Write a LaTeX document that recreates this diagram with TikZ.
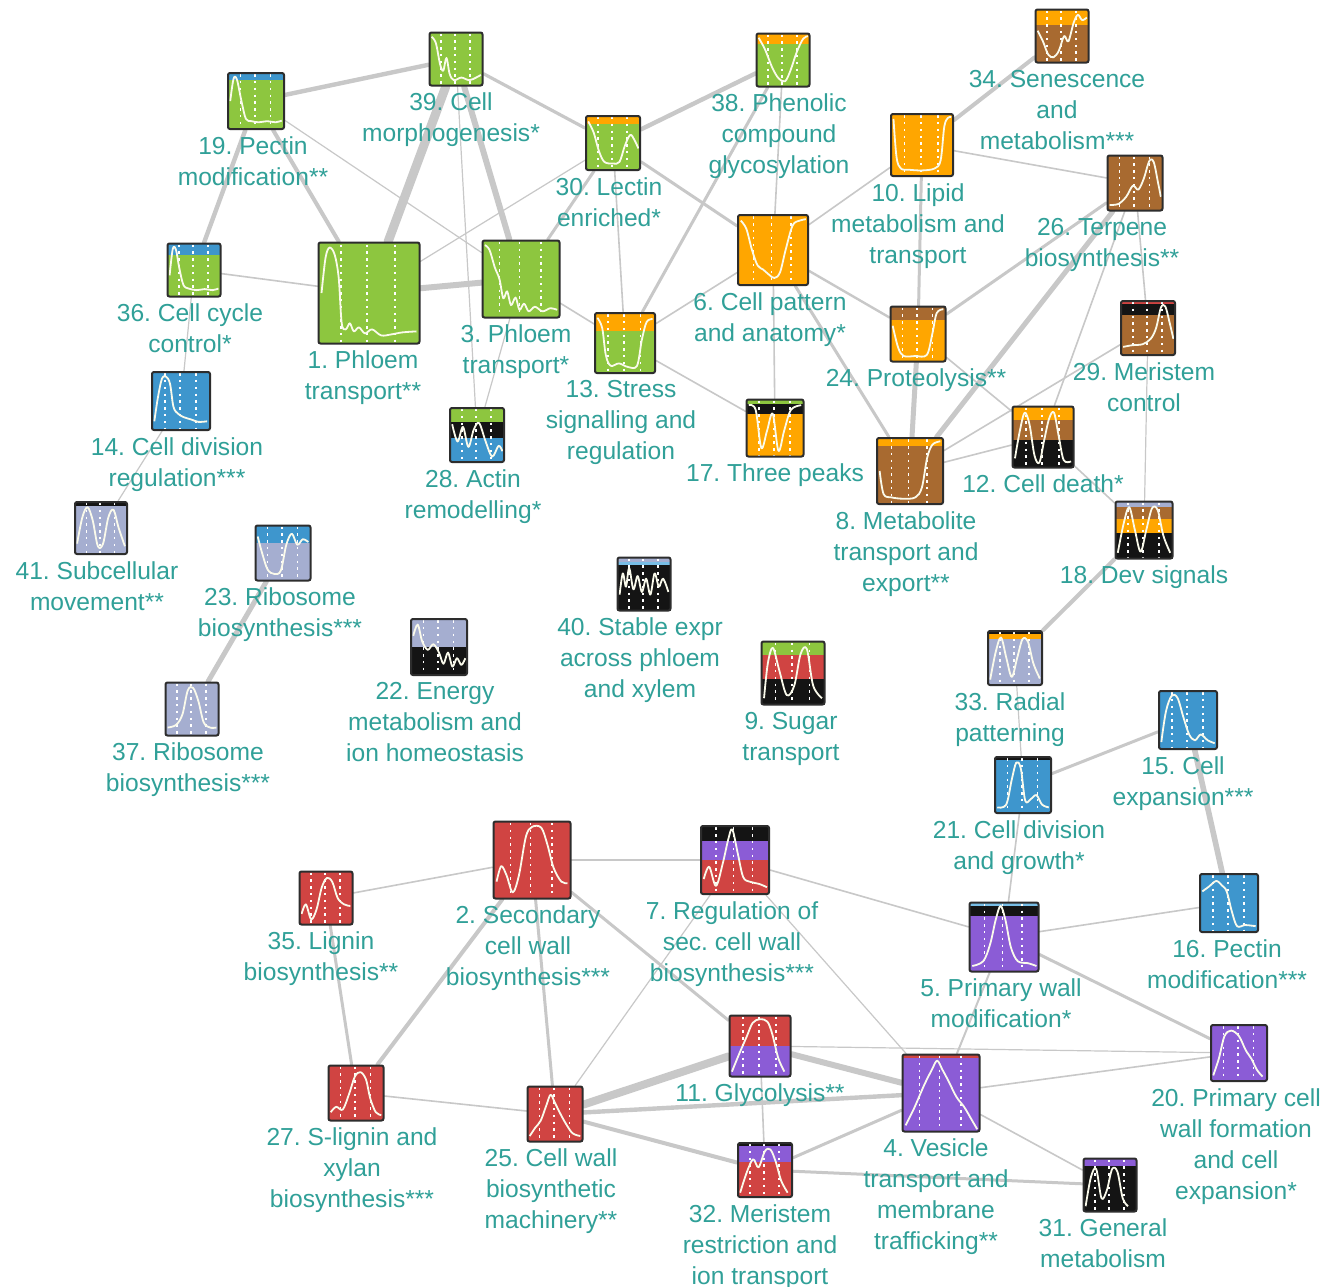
\documentclass[tikz,border=0pt]{standalone}
\usepackage{fontspec}
\setmainfont{Liberation Sans}
\frenchspacing
\pgfdeclarelayer{bg}
\pgfsetlayers{bg,main}
\definecolor{cgreen}{RGB}{141,198,63}
\definecolor{corange}{RGB}{255,166,0}
\definecolor{cbrown}{RGB}{168,106,48}
\definecolor{cblue}{RGB}{62,150,205}
\definecolor{cred}{RGB}{208,68,66}
\definecolor{cpurple}{RGB}{139,92,214}
\definecolor{cslate}{RGB}{165,174,208}
\definecolor{clblue}{RGB}{120,190,230}
\definecolor{cblack}{RGB}{20,20,20}
\definecolor{cframe}{RGB}{45,45,45}
\definecolor{labcol}{RGB}{48,160,152}
\definecolor{edgecol}{RGB}{200,200,200}
\definecolor{curvecol}{RGB}{250,250,235}
\tikzset{
  mbox/.style={draw=cframe, line width=1pt, rounded corners=1pt, inner sep=0pt},
  lab/.style={text=labcol, font=\fontsize{12.3}{15.5}\selectfont\frenchspacing, align=center, anchor=north, inner sep=0pt},
  lnk/.style={draw=edgecol, line cap=round},
  curveline/.style={draw=curvecol, line width=0.9pt, line join=round},
  dotline/.style={draw=white, line width=0.8pt, dash pattern=on 1.2pt off 2.2pt},
}
\newcommand\modbox[8]{%
  \begin{scope}[shift={(#2-#4/2,#3-#4/2)},scale=#4]
    \clip (0,0) rectangle (1,1);
    \foreach \ya/\yb/\cc in {#5} {\fill[fill=\cc] (0,\ya) rectangle (1,\yb);}
    \foreach \dx in {0.22,0.48,0.76} {\draw[dotline] (\dx,0.02) -- (\dx,1);}
    \draw[curveline] plot[smooth,tension=0.55] coordinates {#6};
  \end{scope}
  \node[mbox,minimum size=#4*0.5pt] (#1) at (#2,#3) {};
  \node[lab] at ([xshift=#7*0.5pt,yshift=-3pt]#1.south) {#8};
}
\begin{document}
\begin{tikzpicture}[x=0.5pt,y=-0.5pt]
\useasboundingbox (0,0) rectangle (1334,1286);
\begin{pgfonlayer}{bg}
\fill[white] (0,0) rectangle (1334,1286);
\end{pgfonlayer}

\modbox{n1}{369}{293}{101}{0/1/cgreen}{(0.03,0.5)(0.07,0.15)(0.11,0.05)(0.16,0.12)(0.2,0.35)(0.23,0.8)(0.27,0.86)(0.31,0.8)(0.35,0.88)(0.4,0.84)(0.46,0.9)(0.53,0.86)(0.62,0.92)(0.72,0.91)(0.83,0.89)(0.97,0.88)}{-6}{1. Phloem\\transport**}
\modbox{n2}{532}{860}{77}{0/1/cred}{(0.04,0.78)(0.1,0.58)(0.17,0.7)(0.25,0.92)(0.33,0.7)(0.42,0.2)(0.5,0.07)(0.62,0.08)(0.7,0.3)(0.78,0.6)(0.88,0.78)(0.96,0.8)}{-4}{2. Secondary\\cell wall\\biosynthesis***}
\modbox{n3}{521}{279}{77}{0/1/cgreen}{(0.03,0.06)(0.09,0.12)(0.16,0.35)(0.22,0.5)(0.27,0.75)(0.32,0.66)(0.37,0.84)(0.43,0.74)(0.48,0.9)(0.54,0.82)(0.6,0.92)(0.68,0.86)(0.78,0.92)(0.88,0.88)(0.97,0.9)}{-5}{3. Phloem\\transport*}
\modbox{n4}{941}{1093}{77}{0/0.04/cred,0.04/1/cpurple}{(0.04,0.92)(0.15,0.7)(0.28,0.4)(0.38,0.2)(0.45,0.08)(0.52,0.2)(0.6,0.35)(0.7,0.55)(0.8,0.68)(0.9,0.85)(0.97,0.97)}{-5}{4. Vesicle\\transport and\\membrane\\trafficking**}
\modbox{n5}{1004}{937}{69}{0/0.05/clblue,0.05/0.2/cblack,0.2/1/cpurple}{(0.04,0.92)(0.2,0.85)(0.3,0.6)(0.38,0.25)(0.45,0.05)(0.52,0.25)(0.6,0.65)(0.7,0.85)(0.85,0.88)(0.97,0.92)}{-3}{5. Primary wall\\modification*}
\modbox{n6}{773}{250}{70}{0/1/corange}{(0.04,0.08)(0.12,0.2)(0.2,0.5)(0.28,0.72)(0.36,0.78)(0.44,0.85)(0.52,0.9)(0.6,0.82)(0.68,0.5)(0.78,0.15)(0.88,0.08)(0.97,0.06)}{-3}{6. Cell pattern\\and anatomy*}
\modbox{n7}{735}{860}{68}{0/0.22/cblack,0.22/0.5/cpurple,0.5/1/cred}{(0.04,0.78)(0.12,0.6)(0.22,0.88)(0.32,0.55)(0.4,0.2)(0.46,0.05)(0.54,0.4)(0.62,0.75)(0.72,0.82)(0.85,0.85)(0.97,0.9)}{-3}{7. Regulation of\\sec. cell wall\\biosynthesis***}
\modbox{n8}{910}{471}{66}{0/0.12/corange,0.12/1/cbrown}{(0.04,0.5)(0.1,0.85)(0.22,0.9)(0.4,0.92)(0.58,0.9)(0.68,0.75)(0.76,0.3)(0.84,0.1)(0.96,0.05)}{-4}{8. Metabolite\\transport and\\export**}
\modbox{n9}{793}{673}{63}{0/0.22/cgreen,0.22/0.6/cred,0.6/1/cblack}{(0.04,0.9)(0.1,0.35)(0.18,0.1)(0.28,0.45)(0.4,0.85)(0.52,0.7)(0.62,0.2)(0.72,0.12)(0.82,0.7)(0.96,0.9)}{-2}{9. Sugar\\transport}
\modbox{n10}{922}{145}{62}{0/1/corange}{(0.04,0.08)(0.09,0.7)(0.16,0.88)(0.3,0.9)(0.5,0.91)(0.7,0.88)(0.8,0.75)(0.86,0.2)(0.92,0.06)(0.97,0.05)}{-4}{10. Lipid\\metabolism and\\transport}
\modbox{n11}{760}{1046}{61}{0/0.5/cred,0.5/1/cpurple}{(0.04,0.92)(0.15,0.65)(0.28,0.35)(0.38,0.12)(0.5,0.06)(0.62,0.1)(0.7,0.3)(0.8,0.7)(0.9,0.92)}{0}{11. Glycolysis**}
\modbox{n12}{1043}{437}{61}{0/0.22/corange,0.22/0.55/cbrown,0.55/1/cblack}{(0.04,0.85)(0.12,0.4)(0.2,0.1)(0.28,0.3)(0.36,0.8)(0.44,0.92)(0.52,0.55)(0.6,0.2)(0.68,0.1)(0.76,0.5)(0.84,0.88)(0.96,0.9)}{0}{12. Cell death*}
\modbox{n13}{625}{343}{60}{0/0.3/corange,0.3/1/cgreen}{(0.04,0.08)(0.12,0.25)(0.18,0.7)(0.26,0.88)(0.4,0.84)(0.55,0.9)(0.7,0.88)(0.78,0.45)(0.86,0.15)(0.96,0.1)}{-4}{13. Stress\\signalling and\\regulation}
\modbox{n14}{181}{401}{58}{0/1/cblue}{(0.04,0.85)(0.1,0.45)(0.17,0.12)(0.24,0.08)(0.31,0.2)(0.37,0.6)(0.45,0.72)(0.55,0.78)(0.68,0.82)(0.8,0.86)(0.95,0.85)}{-4}{14. Cell division\\regulation***}
\modbox{n15}{1188}{720}{58}{0/1/cblue}{(0.04,0.88)(0.12,0.35)(0.22,0.08)(0.32,0.12)(0.42,0.45)(0.52,0.75)(0.62,0.85)(0.72,0.75)(0.84,0.85)(0.96,0.9)}{-5}{15. Cell\\expansion***}
\modbox{n16}{1229}{903}{58}{0/1/cblue}{(0.04,0.3)(0.15,0.22)(0.28,0.12)(0.38,0.2)(0.46,0.3)(0.55,0.65)(0.64,0.9)(0.78,0.88)(0.96,0.9)}{-2}{16. Pectin\\modification***}
\modbox{n17}{775}{428}{57}{0/0.08/cgreen,0.08/0.25/cblack,0.25/1/corange}{(0.04,0.1)(0.16,0.18)(0.26,0.85)(0.36,0.55)(0.46,0.25)(0.56,0.9)(0.66,0.55)(0.78,0.18)(0.96,0.1)}{0}{17. Three peaks}
\modbox{n18}{1144}{530}{57}{0/0.1/cslate,0.1/0.3/cbrown,0.3/0.55/corange,0.55/1/cblack}{(0.04,0.9)(0.14,0.4)(0.24,0.1)(0.34,0.5)(0.44,0.88)(0.54,0.5)(0.64,0.12)(0.74,0.15)(0.84,0.6)(0.96,0.9)}{0}{18. Dev signals}
\modbox{n19}{256}{101}{56}{0/0.12/cblue,0.12/1/cgreen}{(0.04,0.5)(0.1,0.1)(0.16,0.12)(0.24,0.5)(0.32,0.82)(0.42,0.86)(0.55,0.88)(0.7,0.86)(0.85,0.88)(0.96,0.85)}{-3}{19. Pectin\\modification**}
\modbox{n20}{1239}{1053}{56}{0/1/cpurple}{(0.04,0.9)(0.14,0.6)(0.24,0.2)(0.36,0.1)(0.5,0.2)(0.62,0.45)(0.72,0.6)(0.82,0.8)(0.92,0.92)}{-3}{20. Primary cell\\wall formation\\and cell\\expansion*}
\modbox{n21}{1023}{785}{56}{0/0.06/cblack,0.06/1/cblue}{(0.04,0.9)(0.2,0.85)(0.3,0.4)(0.38,0.1)(0.46,0.2)(0.54,0.78)(0.64,0.75)(0.74,0.68)(0.84,0.85)(0.96,0.9)}{-4}{21. Cell division\\and growth*}
\modbox{n22}{439}{647}{56}{0/0.5/cslate,0.5/1/cblack}{(0.04,0.3)(0.12,0.1)(0.2,0.4)(0.3,0.55)(0.4,0.45)(0.5,0.6)(0.58,0.8)(0.66,0.6)(0.74,0.85)(0.82,0.7)(0.9,0.82)(0.97,0.7)}{-4}{22. Energy\\metabolism and\\ion homeostasis}
\modbox{n23}{283}{553}{55}{0/0.32/cblue,0.32/1/cslate}{(0.04,0.2)(0.12,0.5)(0.22,0.8)(0.34,0.88)(0.46,0.82)(0.56,0.35)(0.66,0.15)(0.76,0.35)(0.86,0.25)(0.96,0.3)}{-3}{23. Ribosome\\biosynthesis***}
\modbox{n24}{918}{334}{55}{0/0.25/cbrown,0.25/1/corange}{(0.04,0.35)(0.14,0.75)(0.24,0.9)(0.45,0.9)(0.66,0.88)(0.76,0.5)(0.84,0.12)(0.96,0.05)}{-2}{24. Proteolysis**}
\modbox{n25}{555}{1114}{55}{0/1/cred}{(0.04,0.9)(0.14,0.75)(0.24,0.62)(0.34,0.35)(0.42,0.15)(0.5,0.3)(0.6,0.5)(0.7,0.68)(0.82,0.85)(0.96,0.9)}{-4}{25. Cell wall\\biosynthetic\\machinery**}
\modbox{n26}{1135}{183}{55}{0/1/cbrown}{(0.04,0.9)(0.2,0.88)(0.34,0.75)(0.46,0.55)(0.56,0.62)(0.66,0.42)(0.76,0.1)(0.84,0.12)(0.92,0.5)(0.97,0.75)}{-33}{26. Terpene\\biosynthesis**}
\modbox{n27}{356}{1093}{55}{0/1/cred}{(0.04,0.85)(0.14,0.75)(0.26,0.8)(0.38,0.5)(0.48,0.2)(0.58,0.12)(0.68,0.25)(0.76,0.6)(0.86,0.85)(0.96,0.9)}{-4}{27. S-lignin and\\xylan\\biosynthesis***}
\modbox{n28}{477}{435}{54}{0/0.25/cgreen,0.25/0.55/cblack,0.55/1/cblue}{(0.04,0.3)(0.14,0.62)(0.24,0.35)(0.34,0.72)(0.44,0.4)(0.54,0.28)(0.66,0.62)(0.78,0.9)(0.9,0.7)(0.97,0.8)}{-4}{28. Actin\\remodelling*}
\modbox{n29}{1148}{328}{54}{0/0.05/cred,0.05/0.25/cblack,0.25/1/cbrown}{(0.04,0.85)(0.2,0.82)(0.4,0.8)(0.55,0.7)(0.65,0.5)(0.74,0.12)(0.82,0.1)(0.9,0.4)(0.97,0.7)}{-4}{29. Meristem\\control}
\modbox{n30}{613}{143}{54}{0/0.15/corange,0.15/1/cgreen}{(0.04,0.1)(0.14,0.3)(0.24,0.65)(0.34,0.85)(0.5,0.88)(0.62,0.85)(0.72,0.55)(0.82,0.35)(0.9,0.45)(0.97,0.6)}{-4}{30. Lectin\\enriched*}
\modbox{n31}{1110}{1185}{53}{0/0.15/cpurple,0.15/1/cblack}{(0.04,0.9)(0.14,0.35)(0.24,0.2)(0.34,0.75)(0.44,0.6)(0.54,0.2)(0.64,0.25)(0.74,0.75)(0.84,0.9)}{-7}{31. General\\metabolism}
\modbox{n32}{765}{1170}{54}{0/0.05/cblack,0.05/0.35/cpurple,0.35/1/cred}{(0.04,0.92)(0.16,0.55)(0.28,0.3)(0.38,0.45)(0.5,0.15)(0.6,0.12)(0.7,0.35)(0.8,0.7)(0.92,0.92)}{-5}{32. Meristem\\restriction and\\ion transport}
\modbox{n33}{1015}{658}{54}{0/0.06/cblack,0.06/0.14/corange,0.14/1/cslate}{(0.04,0.9)(0.14,0.4)(0.24,0.12)(0.34,0.5)(0.44,0.85)(0.54,0.5)(0.64,0.15)(0.74,0.2)(0.84,0.6)(0.96,0.88)}{-5}{33. Radial\\patterning}
\modbox{n34}{1062}{36}{53}{0/0.3/corange,0.3/1/cbrown}{(0.04,0.4)(0.14,0.6)(0.24,0.85)(0.34,0.9)(0.44,0.78)(0.54,0.5)(0.62,0.6)(0.72,0.25)(0.8,0.1)(0.88,0.2)(0.97,0.15)}{-5}{34. Senescence\\and\\metabolism***}
\modbox{n35}{326}{898}{53}{0/1/cred}{(0.04,0.8)(0.12,0.62)(0.22,0.9)(0.32,0.72)(0.42,0.3)(0.52,0.12)(0.62,0.2)(0.72,0.5)(0.84,0.62)(0.96,0.65)}{-5}{35. Lignin\\biosynthesis**}
\modbox{n36}{194}{270}{53}{0/0.22/cblue,0.22/1/cgreen}{(0.04,0.6)(0.1,0.1)(0.16,0.12)(0.22,0.45)(0.3,0.78)(0.4,0.85)(0.55,0.88)(0.7,0.86)(0.85,0.88)(0.96,0.85)}{-4}{36. Cell cycle\\control*}
\modbox{n37}{192}{709}{53}{0/1/cslate}{(0.04,0.85)(0.2,0.8)(0.32,0.6)(0.42,0.15)(0.52,0.1)(0.62,0.35)(0.72,0.75)(0.84,0.85)(0.96,0.85)}{-4}{37. Ribosome\\biosynthesis***}
\modbox{n38}{783}{60}{53}{0/0.2/corange,0.2/1/cgreen}{(0.04,0.08)(0.16,0.3)(0.3,0.65)(0.42,0.85)(0.54,0.9)(0.64,0.7)(0.76,0.35)(0.88,0.1)(0.97,0.05)}{-4}{38. Phenolic\\compound\\glycosylation}
\modbox{n39}{456}{59}{53}{0/1/cgreen}{(0.04,0.08)(0.12,0.2)(0.2,0.6)(0.26,0.72)(0.32,0.48)(0.38,0.78)(0.46,0.9)(0.6,0.85)(0.75,0.9)(0.88,0.85)(0.97,0.8)}{-5}{39. Cell\\morphogenesis*}
\modbox{n40}{644}{584}{53}{0/0.08/cslate,0.08/0.15/clblue,0.15/1/cblack}{(0.04,0.7)(0.1,0.3)(0.16,0.55)(0.22,0.2)(0.3,0.6)(0.38,0.35)(0.46,0.65)(0.54,0.4)(0.62,0.7)(0.7,0.3)(0.78,0.55)(0.86,0.4)(0.96,0.65)}{-4}{40. Stable expr\\across phloem\\and xylem}
\modbox{n41}{101}{528}{52}{0/0.08/cblack,0.08/1/cslate}{(0.04,0.8)(0.14,0.3)(0.24,0.1)(0.34,0.35)(0.44,0.85)(0.54,0.8)(0.64,0.3)(0.74,0.15)(0.84,0.5)(0.96,0.85)}{-4}{41. Subcellular\\movement**}

\begin{pgfonlayer}{bg}
\foreach \a/\b/\w in {
  n19/n39/2.2, n19/n36/2.2, n19/n1/2.0, n19/n3/0.6, n39/n1/4.5, n39/n3/3.0,
  n39/n28/0.6, n39/n30/1.6, n1/n30/0.6, n1/n36/0.8, n1/n3/3.0, n3/n30/1.5,
  n3/n13/0.8, n3/n28/0.6, n30/n38/2.2, n30/n13/0.8, n30/n6/1.5, n38/n13/1.5,
  n38/n6/0.8, n6/n13/0.8, n6/n10/0.8, n6/n24/1.2, n6/n8/1.5, n6/n17/0.8,
  n13/n17/0.8, n10/n34/2.0, n10/n26/0.8, n10/n24/1.5, n24/n8/2.5, n26/n24/1.5,
  n26/n8/2.5, n26/n12/0.8, n26/n29/0.8, n24/n12/0.8, n8/n12/0.8, n8/n29/0.8,
  n29/n18/0.6, n12/n18/0.8, n18/n33/2.0, n33/n21/0.6, n21/n15/1.5, n15/n16/2.8,
  n21/n5/0.8, n16/n5/0.8, n36/n14/0.6, n14/n41/0.6, n23/n37/2.5,
  n35/n2/0.8, n35/n27/1.5, n2/n7/0.8, n2/n27/2.0, n2/n25/1.5, n2/n11/1.5,
  n7/n25/0.6, n7/n4/0.6, n7/n5/0.8, n27/n25/0.8, n25/n11/4.0, n25/n4/2.2,
  n25/n32/2.0, n11/n32/0.8, n11/n20/0.6, n11/n4/3.0, n32/n4/1.5, n32/n31/1.5,
  n4/n31/0.8, n4/n20/0.8, n5/n20/1.5, n5/n4/1.0}
  {\draw[lnk, line width=\w pt] (\a) -- (\b);}
\end{pgfonlayer}
\end{tikzpicture}
\end{document}
